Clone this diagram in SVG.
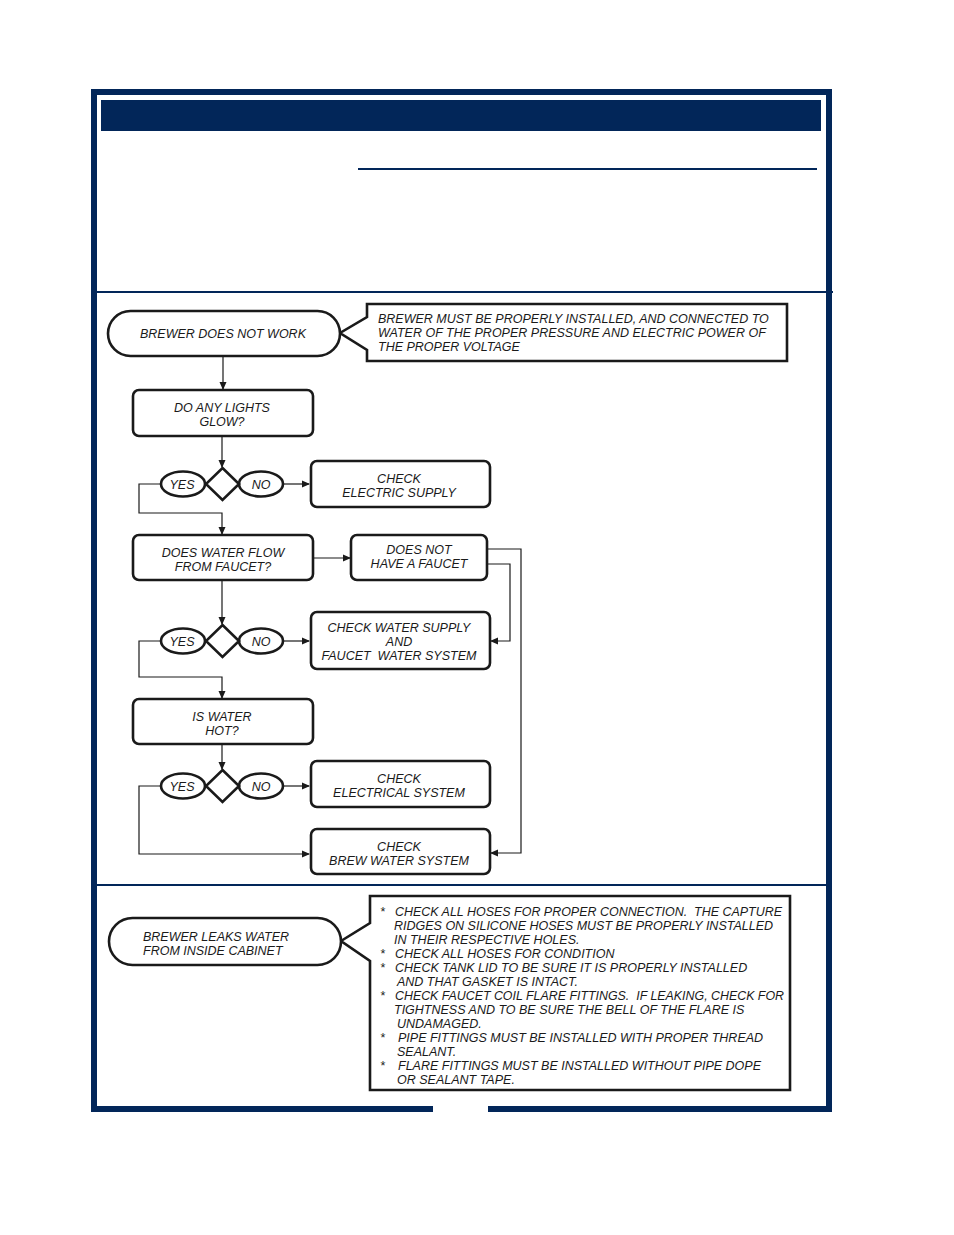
<svg xmlns="http://www.w3.org/2000/svg" width="954" height="1235" viewBox="0 0 954 1235">
<defs>
<style>
.t{font-family:"Liberation Sans",Arial,sans-serif;font-style:italic;font-size:12.5px;fill:#1a1a1a;white-space:pre}
.c{text-anchor:middle}
.box{fill:#fff;stroke:#1a1a1a;stroke-width:2.6}
.yn{fill:#fff;stroke:#1a1a1a;stroke-width:2.6}
.ln{fill:none;stroke:#1a1a1a;stroke-width:1.2}
.nv{fill:#022659}
</style>
<marker id="ar" markerWidth="8" markerHeight="8" refX="7" refY="4" orient="auto" markerUnits="userSpaceOnUse">
<path d="M0,0.5 L8,4 L0,7.5 Z" fill="#1a1a1a"/>
</marker>
</defs>
<rect width="954" height="1235" fill="#fff"/>
<g id="frame">
<rect x="94" y="92" width="735" height="1017" fill="none" stroke="#022659" stroke-width="6"/>
<rect x="433" y="1104" width="55" height="10" fill="#fff"/>
<rect class="nv" x="101" y="100" width="720" height="31"/>
<rect class="nv" x="358" y="168" width="459" height="2"/>
<rect class="nv" x="97" y="291" width="736" height="2"/>
<rect class="nv" x="97" y="884" width="729" height="2"/>
</g>
<g id="connectors">
<line class="ln" x1="223" y1="357" x2="223" y2="389" marker-end="url(#ar)"/>
<line class="ln" x1="222" y1="437" x2="222" y2="467" marker-end="url(#ar)"/>
<line class="ln" x1="283" y1="484" x2="309" y2="484" marker-end="url(#ar)"/>
<polyline class="ln" points="161,484 139,484 139,513 222,513 222,534" marker-end="url(#ar)"/>
<line class="ln" x1="314" y1="558" x2="350" y2="558" marker-end="url(#ar)"/>
<polyline class="ln" points="488,549 521,549 521,853 491,853" marker-end="url(#ar)"/>
<polyline class="ln" points="488,564 510,564 510,641 491,641" marker-end="url(#ar)"/>
<line class="ln" x1="222" y1="581" x2="222" y2="624" marker-end="url(#ar)"/>
<line class="ln" x1="283" y1="641" x2="309" y2="641" marker-end="url(#ar)"/>
<polyline class="ln" points="161,641 139,641 139,677 222,677 222,698" marker-end="url(#ar)"/>
<line class="ln" x1="222" y1="745" x2="222" y2="769" marker-end="url(#ar)"/>
<line class="ln" x1="283" y1="786" x2="309" y2="786" marker-end="url(#ar)"/>
<polyline class="ln" points="161,786 139,786 139,854 309,854" marker-end="url(#ar)"/>
</g>
<g id="note1">
<path class="box" d="M367,304 H787 V361 H367 V350 L340,333 L367,317 Z"/>
<text class="t" x="378" y="323">BREWER MUST BE PROPERLY INSTALLED, AND CONNECTED TO</text>
<text class="t" x="378" y="337">WATER OF THE PROPER PRESSURE AND ELECTRIC POWER OF</text>
<text class="t" x="378" y="351">THE PROPER VOLTAGE</text>
</g>
<g id="start1">
<rect class="box" x="108" y="311" width="232" height="45" rx="22.5"/>
<text class="t c" x="223" y="338">BREWER DOES NOT WORK</text>
</g>
<g id="q1">
<rect class="box" x="133" y="390" width="180" height="46" rx="6"/>
<text class="t c" x="222" y="412">DO ANY LIGHTS</text>
<text class="t c" x="222" y="426">GLOW?</text>
</g>
<g id="d1">
<ellipse class="yn" cx="183" cy="484" rx="22" ry="12.5"/>
<ellipse class="yn" cx="261" cy="484" rx="22" ry="12.5"/>
<path class="yn" d="M222.5,468 L239,484 L222.5,500 L206,484 Z"/>
<text class="t c" x="182" y="489">YES</text>
<text class="t c" x="261" y="489">NO</text>
</g>
<g id="a1">
<rect class="box" x="311" y="461" width="179" height="46" rx="6"/>
<text class="t c" x="399" y="483">CHECK</text>
<text class="t c" x="399" y="497">ELECTRIC SUPPLY</text>
</g>
<g id="q2">
<rect class="box" x="133" y="535" width="180" height="45" rx="6"/>
<text class="t c" x="223" y="557">DOES WATER FLOW</text>
<text class="t c" x="223" y="571">FROM FAUCET?</text>
</g>
<g id="nofaucet">
<rect class="box" x="351" y="535" width="136" height="45" rx="6"/>
<text class="t c" x="419" y="554">DOES NOT</text>
<text class="t c" x="419" y="568">HAVE A FAUCET</text>
</g>
<g id="d2">
<ellipse class="yn" cx="183" cy="641" rx="22" ry="12.5"/>
<ellipse class="yn" cx="261" cy="641" rx="22" ry="12.5"/>
<path class="yn" d="M222.5,625 L239,641 L222.5,657 L206,641 Z"/>
<text class="t c" x="182" y="646">YES</text>
<text class="t c" x="261" y="646">NO</text>
</g>
<g id="a2">
<rect class="box" x="311" y="612" width="179" height="57" rx="6"/>
<text class="t c" x="399" y="632">CHECK WATER SUPPLY</text>
<text class="t c" x="399" y="646">AND</text>
<text class="t c" x="399" y="660">FAUCET  WATER SYSTEM</text>
</g>
<g id="q3">
<rect class="box" x="133" y="699" width="180" height="45" rx="6"/>
<text class="t c" x="222" y="721">IS WATER</text>
<text class="t c" x="222" y="735">HOT?</text>
</g>
<g id="d3">
<ellipse class="yn" cx="183" cy="786" rx="22" ry="12.5"/>
<ellipse class="yn" cx="261" cy="786" rx="22" ry="12.5"/>
<path class="yn" d="M222.5,770 L239,786 L222.5,802 L206,786 Z"/>
<text class="t c" x="182" y="791">YES</text>
<text class="t c" x="261" y="791">NO</text>
</g>
<g id="a3">
<rect class="box" x="311" y="761" width="179" height="46" rx="6"/>
<text class="t c" x="399" y="783">CHECK</text>
<text class="t c" x="399" y="797">ELECTRICAL SYSTEM</text>
</g>
<g id="a4">
<rect class="box" x="311" y="829" width="179" height="45" rx="6"/>
<text class="t c" x="399" y="851">CHECK</text>
<text class="t c" x="399" y="865">BREW WATER SYSTEM</text>
</g>
<g id="note2">
<path class="box" d="M370,896 H790 V1090 H370 V961 L341,941 L370,923 Z"/>
<text class="t" x="380" y="916">*</text>
<text class="t" x="395" y="916" textLength="387" lengthAdjust="spacingAndGlyphs">CHECK ALL HOSES FOR PROPER CONNECTION.  THE CAPTURE</text>
<text class="t" x="394" y="930">RIDGES ON SILICONE HOSES MUST BE PROPERLY INSTALLED</text>
<text class="t" x="394" y="944">IN THEIR RESPECTIVE HOLES.</text>
<text class="t" x="380" y="958">*</text>
<text class="t" x="395" y="958">CHECK ALL HOSES FOR CONDITION</text>
<text class="t" x="380" y="972">*</text>
<text class="t" x="395" y="972">CHECK TANK LID TO BE SURE IT IS PROPERLY INSTALLED</text>
<text class="t" x="397" y="986">AND THAT GASKET IS INTACT.</text>
<text class="t" x="380" y="1000">*</text>
<text class="t" x="395" y="1000" textLength="389" lengthAdjust="spacingAndGlyphs">CHECK FAUCET COIL FLARE FITTINGS.  IF LEAKING, CHECK FOR</text>
<text class="t" x="394" y="1014">TIGHTNESS AND TO BE SURE THE BELL OF THE FLARE IS</text>
<text class="t" x="397" y="1028">UNDAMAGED.</text>
<text class="t" x="380" y="1042">*</text>
<text class="t" x="398" y="1042">PIPE FITTINGS MUST BE INSTALLED WITH PROPER THREAD</text>
<text class="t" x="397" y="1056">SEALANT.</text>
<text class="t" x="380" y="1070">*</text>
<text class="t" x="398" y="1070">FLARE FITTINGS MUST BE INSTALLED WITHOUT PIPE DOPE</text>
<text class="t" x="397" y="1084">OR SEALANT TAPE.</text>
</g>
<g id="start2">
<rect class="box" x="109" y="918" width="232" height="47" rx="23.5"/>
<text class="t" x="143" y="941">BREWER LEAKS WATER</text>
<text class="t" x="143" y="955">FROM INSIDE CABINET</text>
</g>
</svg>
